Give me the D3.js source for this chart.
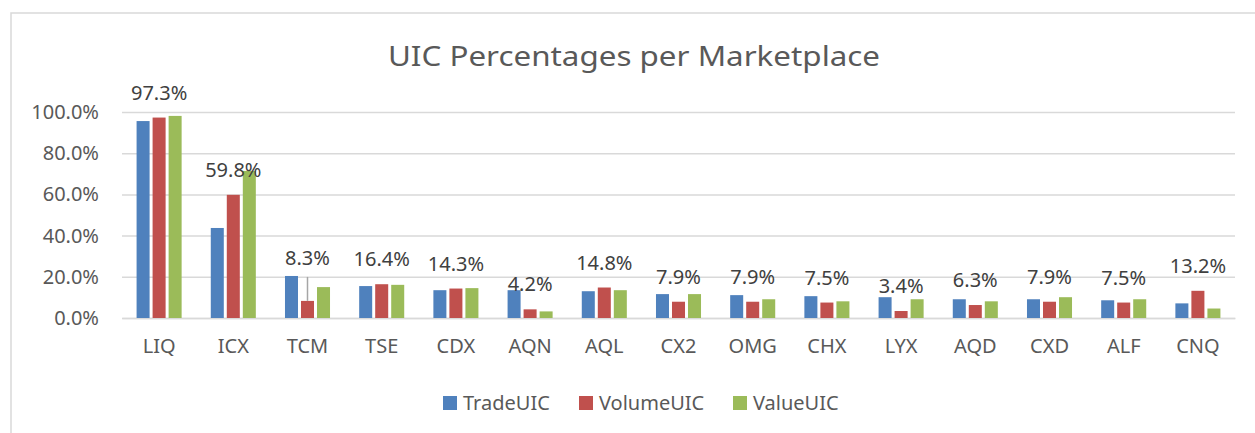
<!DOCTYPE html>
<html>
<head>
<meta charset="utf-8">
<script src="https://cdn.jsdelivr.net/npm/d3@7"></script>
<style>
  body { margin: 0; background: #fff; }
  svg { display: block; font-family: "Noto Sans", "Open Sans", sans-serif; }
</style>
</head>
<body>
<div id="wrapper"></div>
<script>
// Data
const categories = ["LIQ", "ICX", "TCM", "TSE", "CDX", "AQN", "AQL", "CX2", "OMG", "CHX", "LYX", "AQD", "CXD", "ALF", "CNQ"];
const seriesNames = ["TradeUIC", "VolumeUIC", "ValueUIC"];
const tradeUIC = [0.956, 0.437, 0.204, 0.155, 0.135, 0.135, 0.130, 0.116, 0.111, 0.106, 0.101, 0.091, 0.091, 0.086, 0.071];
const volumeUIC = [0.973, 0.598, 0.083, 0.164, 0.143, 0.042, 0.148, 0.079, 0.079, 0.075, 0.034, 0.063, 0.079, 0.075, 0.132];
const valueUIC = [0.981, 0.714, 0.150, 0.161, 0.145, 0.032, 0.135, 0.116, 0.091, 0.081, 0.091, 0.081, 0.101, 0.091, 0.046];
const yTicks = [0, 0.2, 0.4, 0.6, 0.8, 1.0];
const colors = ["#4f81bd", "#c0504d", "#9bbb59"];
// labels that Excel moved up, with a leader line
const liftedLabels = ["TCM"];

const table = categories.map((c, i) => ({
  category: c,
  values: [tradeUIC[i], volumeUIC[i], valueUIC[i]],
}));

// Dimensions
const width = 1255;
const height = 433;
const plot = { left: 122, right: 1235, top: 112, bottom: 318 };
const textColor = "#595959";
const gridColor = "#d9d9d9";

const svg = d3
  .select("#wrapper")
  .append("svg")
  .attr("width", width)
  .attr("height", height);

// chart area border (only top and left fall inside the picture)
svg
  .append("rect")
  .attr("x", 11)
  .attr("y", 13)
  .attr("width", width + 20)
  .attr("height", height + 20)
  .attr("fill", "#fff")
  .attr("stroke", gridColor)
  .attr("stroke-width", 1.5);

// Scales
const x0 = d3
  .scaleBand()
  .domain(categories)
  .range([plot.left, plot.right])
  .paddingInner(0.393)
  .paddingOuter(0.1965);

const x1 = d3
  .scaleBand()
  .domain(seriesNames)
  .range([0, x0.bandwidth()])
  .paddingInner(0.1875);

const yScale = d3
  .scaleLinear()
  .domain([0, 1])
  .range([plot.bottom, plot.top]);

// Title (reference text is a bit stretched sideways)
svg
  .append("text")
  .attr("transform", "translate(634,66) scale(1.12,1)")
  .attr("text-anchor", "middle")
  .attr("fill", textColor)
  .style("font-size", "28px")
  .text("UIC Percentages per Marketplace");

// Gridlines + y axis
const yAxis = svg
  .append("g")
  .attr("transform", `translate(${plot.left},0)`)
  .call(
    d3
      .axisLeft(yScale)
      .tickValues(yTicks)
      .tickFormat(d3.format(".1%"))
      .tickSize(-(plot.right - plot.left))
      .tickPadding(23)
  );
yAxis.select(".domain").remove();
yAxis.selectAll(".tick line").attr("stroke", gridColor).attr("stroke-width", 1.5);
yAxis
  .selectAll(".tick text")
  .attr("fill", textColor)
  .style("font-size", "20px")
  .style("font-family", "'Noto Sans', sans-serif");

// x axis
const xAxis = svg
  .append("g")
  .attr("transform", `translate(0,${plot.bottom})`)
  .call(d3.axisBottom(x0).tickSize(0).tickPadding(21));
xAxis.select(".domain").attr("stroke", gridColor).attr("stroke-width", 1.5);
xAxis
  .selectAll(".tick text")
  .attr("fill", textColor)
  .style("font-size", "20px")
  .style("font-family", "'Noto Sans', sans-serif");

// Bars
const groups = svg
  .append("g")
  .selectAll("g")
  .data(table)
  .join("g")
  .attr("transform", (d) => `translate(${x0(d.category)},0)`);

groups
  .selectAll("rect")
  .data((d) => d.values.map((v, i) => ({ series: seriesNames[i], value: v, idx: i })))
  .join("rect")
  .attr("x", (d) => x1(d.series))
  .attr("y", (d) => yScale(d.value))
  .attr("width", x1.bandwidth())
  .attr("height", (d) => yScale(0) - yScale(d.value))
  .attr("fill", (d) => colors[d.idx]);

// Data labels (VolumeUIC)
const labelGap = 18;
const liftExtra = 18;
groups.each(function (d) {
  const g = d3.select(this);
  const cx = x1("VolumeUIC") + x1.bandwidth() / 2;
  const top = yScale(d.values[1]);
  const lifted = liftedLabels.includes(d.category);
  const baseY = top - labelGap - (lifted ? liftExtra : 0);
  if (lifted) {
    g.append("line")
      .attr("x1", cx)
      .attr("x2", cx)
      .attr("y1", baseY + 12)
      .attr("y2", top)
      .attr("stroke", "#a6a6a6")
      .attr("stroke-width", 1.5);
  }
  g.append("text")
    .attr("x", cx)
    .attr("y", baseY)
    .attr("text-anchor", "middle")
    .attr("fill", "#404040")
    .style("font-size", "20px")
    .text(d3.format(".1%")(d.values[1]));
});

// Legend
const legendX = [443, 579, 733];
const legend = svg
  .append("g")
  .selectAll("g")
  .data(seriesNames)
  .join("g")
  .attr("transform", (d, i) => `translate(${legendX[i]},396)`);

legend
  .append("rect")
  .attr("width", 14)
  .attr("height", 14)
  .attr("fill", (d, i) => colors[i]);

legend
  .append("text")
  .attr("x", 20)
  .attr("y", 14)
  .attr("fill", textColor)
  .style("font-size", "20px")
  .text((d) => d);
</script>
</body>
</html>
